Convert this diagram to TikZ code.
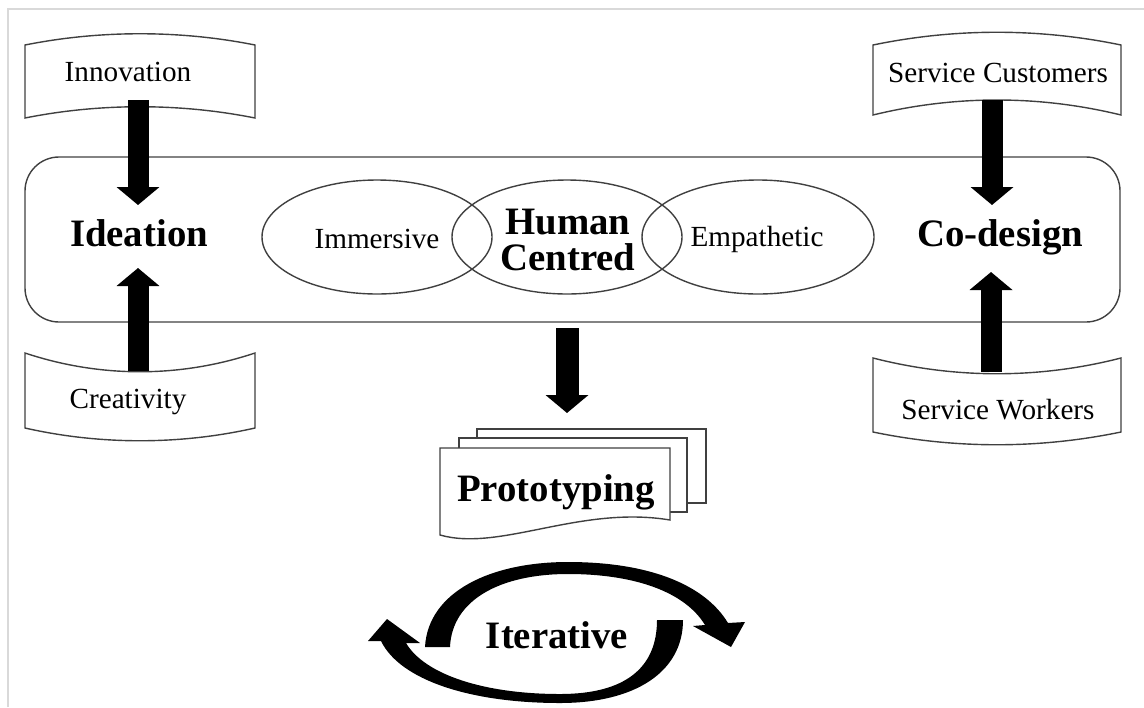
\documentclass[tikz,border=0pt]{standalone}
\usepackage{fontspec}
\setmainfont{Liberation Serif}
\usetikzlibrary{arrows.meta,positioning}

\tikzset{
  lbl/.style={font=\fontsize{14.6}{16}\selectfont},
  boldlbl/.style={font=\fontsize{19.4}{18}\selectfont\bfseries, align=center},
  outline/.style={draw=black!75, line width=0.7pt},
  blockarrow/.style={line width=10.5pt, -{Triangle[length=9pt,width=21pt]}},
}

\begin{document}
\begin{tikzpicture}[x=0.5pt,y=-0.5pt]
  \useasboundingbox (0,0) rectangle (1144,707);
  % frame
  \draw[black!15, line width=1pt] (8,707) -- (8,9) -- (1144,9);
  % main band
  \draw[outline, rounded corners=17pt] (25,157) rectangle (1120,322);

  % banners
  \draw[outline, fill=white] (25,45) .. controls (100,30) and (180,30) .. (255,45)
    -- (255,118) .. controls (180,103) and (100,103) .. (25,118) -- cycle;
  \draw[outline, fill=white] (25,353) .. controls (100,378) and (180,378) .. (255,353)
    -- (255,428) .. controls (180,445) and (100,445) .. (25,428) -- cycle;
  \draw[outline, fill=white] (873,45) .. controls (955,28) and (1039,28) .. (1121,45)
    -- (1121,115) .. controls (1039,95) and (955,95) .. (873,115) -- cycle;
  \draw[outline, fill=white] (873,358) .. controls (955,379) and (1039,379) .. (1121,358)
    -- (1121,432) .. controls (1039,449) and (955,449) .. (873,432) -- cycle;

  \node[lbl] (innov) at (128,72) {Innovation};
  \node[lbl] (creat) at (128,402) {Creativity};
  \node[lbl] (custom) at (998,73) {Service Customers};
  \node[lbl] (workers) at (998,410) {Service Workers};

  % centre ellipses
  \draw[outline] (377,237) ellipse [x radius=115, y radius=57];
  \draw[outline] (567,237) ellipse [x radius=115, y radius=57];
  \draw[outline] (758,237) ellipse [x radius=116, y radius=57];

  \node[boldlbl] (ideation) at (139,233) {Ideation};
  \node[boldlbl] (codesign) at (1000,237) {Co-design};
  \node[lbl] (immersive) at (377,239) {Immersive};
  \node[boldlbl] (human) at (568,240) {Human\\Centred};
  \node[lbl] (empathetic) at (757,239) {Empathetic};

  % prototyping stack
  \draw[outline, fill=white] (477,429) rectangle (706,503);
  \draw[outline, fill=white] (459,438) rectangle (687,512);
  \draw[outline, fill=white] (440,448) -- (670,448) -- (670,520)
    .. controls (580,505) and (500,552) .. (440,535) -- cycle;
  \node[boldlbl] (proto) at (556,492) {Prototyping};

  % arrow ends
  \coordinate (innov-out) at (138,100);
  \coordinate (ideation-in) at (138,205);
  \coordinate (creat-out) at (138,371);
  \coordinate (ideation-up) at (138,268);
  \coordinate (custom-out) at (992,100);
  \coordinate (codesign-in) at (992,205);
  \coordinate (workers-out) at (991,372);
  \coordinate (codesign-up) at (991,272);
  \coordinate (human-out) at (567,328);
  \coordinate (proto-in) at (567,413);

  \draw[blockarrow] (innov-out) -- (ideation-in);
  \draw[blockarrow] (creat-out) -- (ideation-up);
  \draw[blockarrow] (custom-out) -- (codesign-in);
  \draw[blockarrow] (workers-out) -- (codesign-up);
  \draw[blockarrow, line width=11.5pt] (human-out) -- (proto-in);

  % iterative cycle
  \fill (425,647) .. controls (428,592) and (490,562) .. (568,562)
    .. controls (650,562) and (705,585) .. (728,623) -- (745,622) -- (731,647)
    -- (693,626) -- (705,625) .. controls (685,592) and (635,574) .. (568,574)
    .. controls (500,574) and (452,600) .. (450,647) -- cycle;
  \fill (683,620) .. controls (683,672) and (635,703) .. (560,703)
    .. controls (470,703) and (400,680) .. (381,641) -- (368,641) -- (387,619)
    -- (420,643) -- (406,643) .. controls (425,675) and (485,694) .. (560,694)
    .. controls (625,694) and (657,668) .. (657,620) -- cycle;
  \node[boldlbl] (iter) at (557,635) {Iterative};
\end{tikzpicture}
\end{document}
